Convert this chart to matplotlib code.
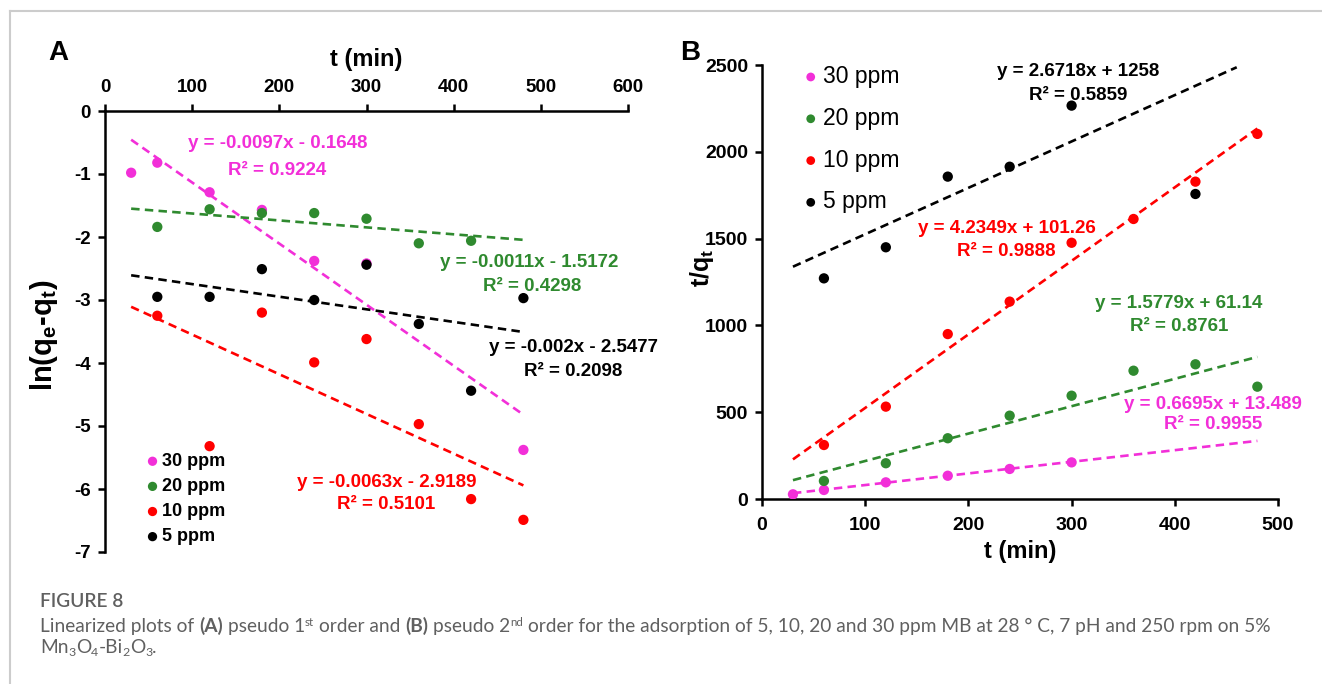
import matplotlib
matplotlib.use('Agg')
import matplotlib.pyplot as plt
import numpy as np
from matplotlib.lines import Line2D
from matplotlib.transforms import IdentityTransform

plt.rcParams['font.family'] = ['Liberation Sans', 'DejaVu Sans']
plt.rcParams['axes.unicode_minus'] = False
plt.rcParams['mathtext.fontset'] = 'custom'
plt.rcParams['mathtext.rm'] = 'Liberation Sans:bold'
plt.rcParams['mathtext.it'] = 'Liberation Sans:bold'
plt.rcParams['mathtext.bf'] = 'Liberation Sans:bold'

# ---------------- data ----------------
series = ['30 ppm', '20 ppm', '10 ppm', '5 ppm']
colors = ['#f22fd8', '#2f8a2f', '#ff0000', '#000000']

# Panel A: pseudo first order, ln(qe-qt) vs t
a_t_30 = [30, 60, 120, 180, 240, 300, 480]
a_y_30 = [-0.98, -0.82, -1.29, -1.57, -2.38, -2.42, -5.38]
a_t_20 = [60, 120, 180, 240, 300, 360, 420]
a_y_20 = [-1.84, -1.56, -1.62, -1.62, -1.71, -2.10, -2.06]
a_t_10 = [60, 120, 180, 240, 300, 360, 420, 480]
a_y_10 = [-3.25, -5.32, -3.20, -3.99, -3.62, -4.97, -6.16, -6.49]
a_t_5 = [60, 120, 180, 240, 300, 360, 420, 480]
a_y_5 = [-2.95, -2.95, -2.51, -3.00, -2.44, -3.38, -4.44, -2.97]
a_slope = [-0.0097, -0.0011, -0.0063, -0.002]
a_intercept = [-0.1648, -1.5172, -2.9189, -2.5477]
a_eq = ['y = -0.0097x - 0.1648', 'y = -0.0011x - 1.5172',
        'y = -0.0063x - 2.9189', 'y = -0.002x - 2.5477']
a_r2 = ['R² = 0.9224', 'R² = 0.4298', 'R² = 0.5101', 'R² = 0.2098']
a_fit_start = [30, 30, 30, 30]
a_fit_end = [480, 480, 480, 480]
a_xticks = [0, 100, 200, 300, 400, 500, 600]
a_yticks = [0, -1, -2, -3, -4, -5, -6, -7]

# Panel B: pseudo second order, t/qt vs t
b_t_30 = [30, 60, 120, 180, 240, 300]
b_y_30 = [27, 52, 96, 134, 173, 211]
b_t_20 = [60, 120, 180, 240, 300, 360, 420, 480]
b_y_20 = [104, 206, 350, 480, 595, 739, 776, 647]
b_t_10 = [60, 120, 180, 240, 300, 360, 420, 480]
b_y_10 = [311, 532, 950, 1137, 1476, 1613, 1828, 2103]
b_t_5 = [60, 120, 180, 240, 300, 420]
b_y_5 = [1271, 1450, 1857, 1914, 2266, 1757]
b_slope = [0.6695, 1.5779, 4.2349, 2.6718]
b_intercept = [13.489, 61.14, 101.26, 1258]
b_eq = ['y = 0.6695x + 13.489', 'y = 1.5779x + 61.14',
        'y = 4.2349x + 101.26', 'y = 2.6718x + 1258']
b_r2 = ['R² = 0.9955', 'R² = 0.8761', 'R² = 0.9888', 'R² = 0.5859']
b_fit_start = [30, 30, 30, 30]
b_fit_end = [480, 480, 480, 460]
b_xticks = [0, 100, 200, 300, 400, 500]
b_yticks = [0, 500, 1000, 1500, 2000, 2500]

a_t = [a_t_30, a_t_20, a_t_10, a_t_5]
a_y = [a_y_30, a_y_20, a_y_10, a_y_5]
b_t = [b_t_30, b_t_20, b_t_10, b_t_5]
b_y = [b_y_30, b_y_20, b_y_10, b_y_5]

# ---------------- figure ----------------
W, H = 1322, 684
fig = plt.figure(figsize=(W / 100, H / 100), dpi=100)

def fx(px):
    return px / W

def fy(py):
    return 1 - py / H

eqfam = ['Liberation Sans Narrow', 'Liberation Sans']
DASH = (0, (3.2, 2.0))

# ---- Panel A ----
axA = fig.add_axes([fx(105), fy(552), fx(628) - fx(105), fy(111) - fy(552)])
for i in range(4):
    xs = np.array([a_fit_start[i], a_fit_end[i]], dtype=float)
    axA.plot(xs, a_slope[i] * xs + a_intercept[i], color=colors[i], lw=1.9,
             linestyle=DASH, zorder=2)
for i in range(4):
    axA.scatter(a_t[i], a_y[i], s=55, color=colors[i], edgecolors='none',
                zorder=3 + i, label=series[i])
axA.set_xlim(0, 600)
axA.set_ylim(-7, 0)
axA.xaxis.tick_top()
axA.xaxis.set_label_position('top')
axA.set_xticks(a_xticks)
axA.set_yticks(a_yticks)
axA.set_xticklabels([str(v) for v in a_xticks])
axA.set_yticklabels([str(v) for v in a_yticks])
for s in ['right', 'bottom']:
    axA.spines[s].set_visible(False)
for s in ['top', 'left']:
    axA.spines[s].set_linewidth(1.8)
axA.tick_params(direction='out', length=5, width=1.8, labelsize=13.5, pad=6)
axA.tick_params(axis='y', pad=5)
for lab in axA.get_xticklabels() + axA.get_yticklabels():
    lab.set_fontweight('bold')
axA.set_xlabel('t (min)', fontsize=17, fontweight='bold', labelpad=9)
axA.set_ylabel(r'ln(q$_\mathregular{e}$-q$_\mathregular{t}$)', fontsize=21,
               fontweight='bold')
axA.yaxis.set_label_coords((60 - 105) / 523, (552 - 335) / 441)

a_eq_pos = [(198, -0.51), (487, -2.40), (323, -5.89), (537, -3.75)]
a_r2_pos = [(198, -0.94), (490, -2.78), (323, -6.25), (537, -4.14)]
for i in range(4):
    axA.text(*a_eq_pos[i], a_eq[i], color=colors[i], fontsize=13.5,
             fontweight='bold', family=eqfam, ha='center', va='center')
    axA.text(*a_r2_pos[i], a_r2[i], color=colors[i], fontsize=13.5,
             fontweight='bold', family=eqfam, ha='center', va='center')

legA = axA.legend(loc='upper left', bbox_to_anchor=(fx(148), fy(453)),
                  bbox_transform=fig.transFigure, frameon=False,
                  handlelength=0.5, handletextpad=0.3, borderpad=0,
                  borderaxespad=0, labelspacing=0.45, markerscale=0.9,
                  prop={'weight': 'bold', 'size': 13})

# ---- Panel B ----
axB = fig.add_axes([fx(762), fy(499), fx(1278) - fx(762), fy(65) - fy(499)])
for i in range(4):
    xs = np.array([b_fit_start[i], b_fit_end[i]], dtype=float)
    axB.plot(xs, b_slope[i] * xs + b_intercept[i], color=colors[i], lw=1.9,
             linestyle=DASH, zorder=2)
for i in range(4):
    axB.scatter(b_t[i], b_y[i], s=55, color=colors[i], edgecolors='none',
                zorder=3 + i, label=series[i])
axB.set_xlim(0, 500)
axB.set_ylim(0, 2500)
axB.set_xticks(b_xticks)
axB.set_yticks(b_yticks)
for s in ['right', 'top']:
    axB.spines[s].set_visible(False)
for s in ['bottom', 'left']:
    axB.spines[s].set_linewidth(1.8)
axB.tick_params(direction='out', length=5, width=1.8, labelsize=14, pad=5)
axB.tick_params(axis='x', pad=8)
for lab in axB.get_xticklabels() + axB.get_yticklabels():
    lab.set_fontweight('bold')
axB.set_xlabel('t (min)', fontsize=17, fontweight='bold', labelpad=4)
axB.set_ylabel(r't/q$_\mathregular{t}$', fontsize=18, fontweight='bold')
axB.yaxis.set_label_coords((716 - 762) / 516, (499 - 268) / 434)

b_eq_pos = [(437, 547), (404, 1129), (237, 1561), (306, 2460)]
b_r2_pos = [(437, 432), (404, 991), (237, 1423), (306, 2327)]
for i in range(4):
    axB.text(*b_eq_pos[i], b_eq[i], color=colors[i], fontsize=13.5,
             fontweight='bold', family=eqfam, ha='center', va='center')
    axB.text(*b_r2_pos[i], b_r2[i], color=colors[i], fontsize=13.5,
             fontweight='bold', family=eqfam, ha='center', va='center')

legB = axB.legend(loc='upper left', bbox_to_anchor=(fx(805), fy(65)),
                  bbox_transform=fig.transFigure, frameon=False,
                  handlelength=0.5, handletextpad=0.3, borderpad=0,
                  borderaxespad=0, labelspacing=0.82, markerscale=0.85,
                  prop={'size': 16.5})

# panel letters
fig.text(fx(58), fy(53), 'A', fontsize=20, fontweight='bold', ha='center', va='center')
fig.text(fx(690), fy(53), 'B', fontsize=20, fontweight='bold', ha='center', va='center')

# frame lines
fig.add_artist(Line2D([fx(10), fx(10)], [0, fy(11)], transform=fig.transFigure,
                      color='#cccccc', lw=1.5))
fig.add_artist(Line2D([fx(10), 1], [fy(11), fy(11)], transform=fig.transFigure,
                      color='#cccccc', lw=1.5))

# ---------------- caption ----------------
capfam = ['Lato', 'DejaVu Sans']
capcol = '#606060'
renderer = fig.canvas.get_renderer()

plain = ('Linearized plots of (A) pseudo 1st order and (B) pseudo 2nd order for the '
         'adsorption of 5, 10, 20 and 30 ppm MB at 28 \u00b0 C, 7 pH and 250 rpm on 5%')
probe = fig.text(0, 0, plain, fontsize=10, family=capfam, transform=IdentityTransform())
wprobe = probe.get_window_extent(renderer).width
probe.remove()
capsize = 10 * (1287 - 40) / wprobe

def text_w(s, size, weight):
    t = fig.text(0, 0, s, fontsize=size, family=capfam, fontweight=weight,
                 transform=IdentityTransform())
    w = t.get_window_extent(renderer).width
    t.remove()
    return w

space_w = text_w('a a', capsize, 'normal') - text_w('aa', capsize, 'normal')

def draw_runs(x, ybase, runs):
    cur = x
    for s, weight, scale, dy, sp in runs:
        t = fig.text(cur, ybase + dy * capsize, s, transform=IdentityTransform(),
                     fontsize=capsize * scale, fontweight=weight, family=capfam,
                     color=capcol, va='baseline', ha='left')
        cur = t.get_window_extent(renderer).x1
        if sp:
            cur += space_w

draw_runs(40, H - 607, [('FIGURE 8', 'semibold', 1.0, 0, False)])
draw_runs(40, H - 632, [
    ('Linearized plots of', 'normal', 1, 0, True),
    ('(A)', 'bold', 1, 0, True),
    ('pseudo 1', 'normal', 1, 0, False),
    ('st', 'normal', 0.6, 0.45, True),
    ('order and', 'normal', 1, 0, True),
    ('(B)', 'bold', 1, 0, True),
    ('pseudo 2', 'normal', 1, 0, False),
    ('nd', 'normal', 0.6, 0.45, True),
    ('order for the adsorption of 5, 10, 20 and 30 ppm MB at 28 \u00b0 C, 7 pH and 250 rpm on 5%',
     'normal', 1, 0, False),
])
draw_runs(40, H - 653, [
    ('Mn', 'normal', 1, 0, False),
    ('3', 'normal', 0.65, -0.2, False),
    ('O', 'normal', 1, 0, False),
    ('4', 'normal', 0.65, -0.2, False),
    ('-Bi', 'normal', 1, 0, False),
    ('2', 'normal', 0.65, -0.2, False),
    ('O', 'normal', 1, 0, False),
    ('3', 'normal', 0.65, -0.2, False),
    ('.', 'normal', 1, 0, False),
])

fig.savefig('out.png', dpi=100)
